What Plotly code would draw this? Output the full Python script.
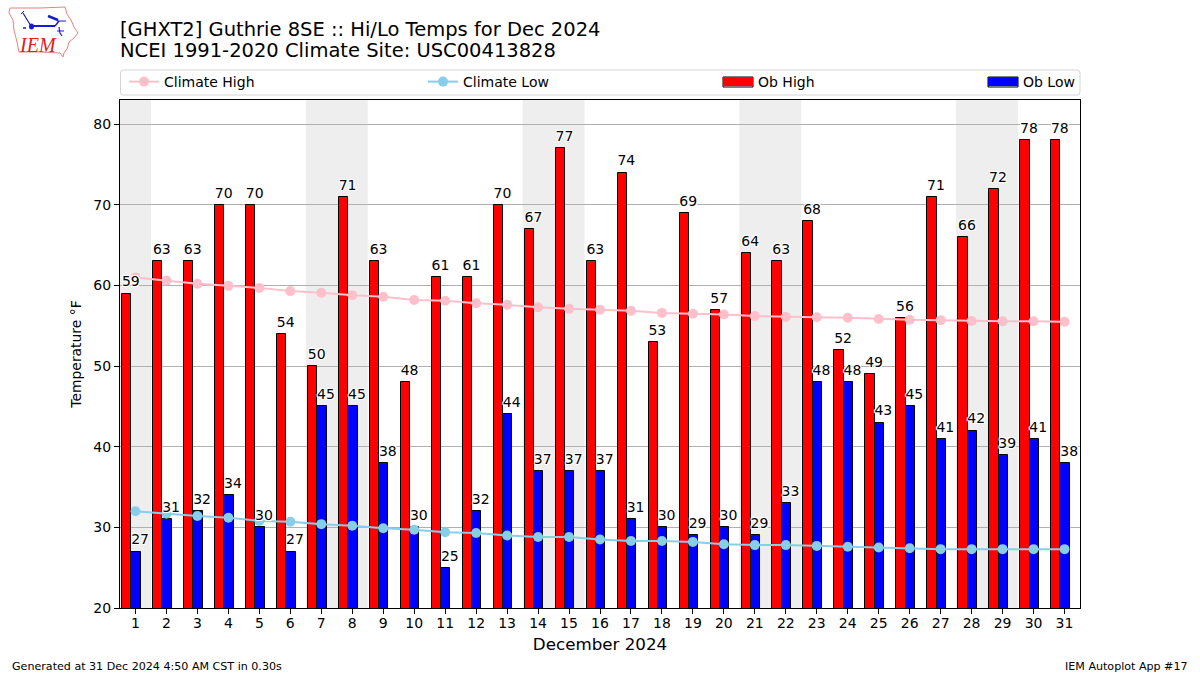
import plotly.graph_objects as go

days = list(range(1, 32))
ob_high = [59,63,63,70,70,54,50,71,63,48,61,61,70,67,77,63,74,53,69,57,64,63,68,52,49,56,71,66,72,78,78]
ob_low = [27,31,32,34,30,27,45,45,38,30,25,32,44,37,37,37,31,30,29,30,29,33,48,48,43,45,41,42,39,41,38]
climate_high = [61.0,60.6,60.2,59.95,59.7,59.3,59.1,58.8,58.6,58.2,58.1,57.8,57.6,57.3,57.1,57.0,56.85,56.6,56.5,56.4,56.2,56.1,56.05,56.0,55.85,55.75,55.7,55.6,55.55,55.55,55.5]
climate_low = [32.0,31.7,31.4,31.2,30.8,30.7,30.4,30.2,29.9,29.7,29.4,29.3,29.0,28.8,28.8,28.5,28.3,28.3,28.2,27.9,27.8,27.8,27.7,27.6,27.5,27.4,27.3,27.3,27.3,27.3,27.3]
weekend_spans = [(1, 1), (7, 8), (14, 15), (21, 22), (28, 29)]
y_ticks = [20, 30, 40, 50, 60, 70, 80]

FONT = "DejaVu Sans"
W, H = 1200, 675
L, R, T, B = 120, 1080, 100, 608

def px(x):
    return (x - L) / (R - L)

def py(y):
    return (B - y) / (B - T)

def path(points, close=False):
    s = "M" + " L".join(f"{px(x):.5f},{py(y):.5f}" for x, y in points)
    return s + (" Z" if close else "")

HALO = "-1px -1px 0 #fff, 1px -1px 0 #fff, -1px 1px 0 #fff, 1px 1px 0 #fff, 0 1px 0 #fff, 0 -1px 0 #fff, 1px 0 0 #fff, -1px 0 0 #fff"
LABEL_LIFT = 0.45

fig = go.Figure()
fig.add_trace(go.Bar(x=days, y=ob_high, name="Ob High", width=0.3, offset=-0.43, showlegend=False,
                     marker=dict(color="#ff0000", line=dict(color="#000000", width=1))))
fig.add_trace(go.Bar(x=days, y=ob_low, name="Ob Low", width=0.3, offset=-0.13, showlegend=False,
                     marker=dict(color="#0000ff", line=dict(color="#000000", width=1))))
fig.add_trace(go.Scatter(x=days, y=climate_high, name="Climate High", mode="lines+markers",
                         line=dict(color="#ffc0cb", width=2), marker=dict(color="#ffc0cb", size=10), legend="legend"))
fig.add_trace(go.Scatter(x=days, y=climate_low, name="Climate Low", mode="lines+markers",
                         line=dict(color="#87ceeb", width=2), marker=dict(color="#87ceeb", size=10), legend="legend2"))
# legend keys for the bars: wide swatches like the reference
fig.add_trace(go.Scatter(x=[None], y=[None], name="Ob High", mode="lines", line=dict(color="#ff0000", width=9), legend="legend3"))
fig.add_trace(go.Scatter(x=[None], y=[None], name="Ob Low", mode="lines", line=dict(color="#0000ff", width=9), legend="legend4"))
label_font = dict(family=FONT, size=14, color="#000000", shadow=HALO)
fig.add_trace(go.Scatter(x=[d - 0.15 for d in days], y=[v + LABEL_LIFT for v in ob_high], mode="text", text=[str(v) for v in ob_high],
                         textposition="top center", textfont=label_font, showlegend=False, hoverinfo="skip"))
fig.add_trace(go.Scatter(x=[d + 0.15 for d in days], y=[v + LABEL_LIFT for v in ob_low], mode="text", text=[str(v) for v in ob_low],
                         textposition="top center", textfont=label_font, showlegend=False, hoverinfo="skip"))

shapes = [dict(type="rect", xref="x", yref="paper", x0=a - 0.5, x1=b + 0.5, y0=0, y1=1,
               fillcolor="#eeeeee", line=dict(width=0), layer="below") for a, b in weekend_spans]

# legend frame (rounded)
x0, x1, y0, y1, r = 120.5, 1080, 70, 95, 3
shapes.append(dict(type="path", xref="paper", yref="paper", line=dict(color="#d5d5d5", width=1),
                   path=f"M{px(x0+r):.5f},{py(y0):.5f} L{px(x1-r):.5f},{py(y0):.5f} Q{px(x1):.5f},{py(y0):.5f} {px(x1):.5f},{py(y0+r):.5f} "
                        f"L{px(x1):.5f},{py(y1-r):.5f} Q{px(x1):.5f},{py(y1):.5f} {px(x1-r):.5f},{py(y1):.5f} "
                        f"L{px(x0+r):.5f},{py(y1):.5f} Q{px(x0):.5f},{py(y1):.5f} {px(x0):.5f},{py(y1-r):.5f} "
                        f"L{px(x0):.5f},{py(y0+r):.5f} Q{px(x0):.5f},{py(y0):.5f} {px(x0+r):.5f},{py(y0):.5f} Z"))

# IEM logo
logo_outline = [(10,8),(40,8),(65,7),(67,14),(71,20),(74,27),(78,33),(74,38),(69,42),(67,49),(64,53),(63,57),(60,53),(40,52),(19,52),(17,42),(14,30),(13,20),(9,13)]
shapes.append(dict(type="path", xref="paper", yref="paper", path=path(logo_outline, True),
                   line=dict(color="#e88080", width=1)))
logo_blue = [
    ([(31,26),(55,26)], 2),
    ([(55,26),(59,21)], 1.5),
    ([(48,16),(58,20)], 2.5),
    ([(57,21),(66,21)], 1),
    ([(31,26),(26,18),(23,13)], 1.2),
    ([(21,14),(24,11)], 1),
    ([(59,27),(60,33),(62,36)], 1.2),
    ([(57,31),(64,31)], 1),
    ([(23,28),(26,28)], 1.5),
]
for seg, w in logo_blue:
    shapes.append(dict(type="path", xref="paper", yref="paper", path=path(seg), line=dict(color="#1a1ad0", width=w)))
shapes.append(dict(type="circle", xref="paper", yref="paper", x0=px(29), x1=px(34), y0=py(29.5), y1=py(23.5),
                   fillcolor="#1a1ad0", line=dict(width=0)))

LEG_Y = 82
LEG_X = {"legend": 124, "legend2": 423, "legend3": 718, "legend4": 983}
for key in ("legend3", "legend4"):
    sx = LEG_X[key] + 5
    shapes.append(dict(type="rect", xref="paper", yref="paper", x0=px(sx), x1=px(sx + 30), y0=py(LEG_Y + 5), y1=py(LEG_Y - 5),
                       line=dict(color="#000000", width=1)))

def legend_at(x):
    return dict(x=px(x), xanchor="left", y=py(LEG_Y), yanchor="middle", bgcolor="rgba(0,0,0,0)", borderwidth=0,
                font=dict(family=FONT, size=14, color="#000000"), itemclick=False, itemdoubleclick=False)

annotations = [
    dict(text="NCEI 1991-2020 Climate Site: USC00413828", xref="paper", yref="paper", x=px(120), y=py(51),
         xanchor="left", yanchor="middle", xshift=-2, showarrow=False, font=dict(family=FONT, size=19.5, color="#000000")),
    dict(text="Generated at 31 Dec 2024 4:50 AM CST in 0.30s", xref="paper", yref="paper", x=px(12), y=py(666),
         xanchor="left", yanchor="middle", xshift=-2, showarrow=False, font=dict(family=FONT, size=11.1, color="#000000")),
    dict(text="IEM Autoplot App #17", xref="paper", yref="paper", x=px(1188), y=py(666),
         xanchor="right", yanchor="middle", xshift=2, showarrow=False, font=dict(family=FONT, size=11.1, color="#000000")),
    dict(text="<i>IEM</i>", xref="paper", yref="paper", x=px(38), y=py(45), xanchor="center", yanchor="middle",
         showarrow=False, font=dict(family="Liberation Serif", size=20, color="#e02020")),
]

fig.update_layout(
    width=W, height=H,
    margin=dict(l=L, r=W - R, t=T, b=H - B, autoexpand=False),
    plot_bgcolor="#ffffff", paper_bgcolor="#ffffff",
    barmode="overlay", bargap=0,
    font=dict(family=FONT, size=14, color="#000000"),
    title=dict(text="[GHXT2] Guthrie 8SE :: Hi/Lo Temps for Dec 2024",
               x=px(120), xref="paper", xanchor="left", y=1 - 29 / H, yref="container", yanchor="middle",
               font=dict(family=FONT, size=19.5, color="#000000")),
    xaxis=dict(range=[0.5, 31.5], tickmode="array", tickvals=days, ticktext=[str(d) for d in days],
               ticks="outside", ticklen=5, tickwidth=1, tickcolor="#000000", showgrid=False, zeroline=False,
               showline=True, linecolor="#000000", linewidth=1, mirror=True, ticklabelstandoff=-3,
               title=dict(text="December 2024", font=dict(family=FONT, size=16.7), standoff=8),
               tickfont=dict(family=FONT, size=14)),
    yaxis=dict(range=[20, 83], tickmode="array", tickvals=y_ticks, ticktext=[str(v) for v in y_ticks],
               ticks="outside", ticklen=5, tickwidth=1, tickcolor="#000000", showgrid=True, gridcolor="#b0b0b0",
               gridwidth=1, zeroline=False, showline=True, linecolor="#000000", linewidth=1, mirror=True,
               title=dict(text="Temperature °F", font=dict(family=FONT, size=13.9), standoff=8),
               tickfont=dict(family=FONT, size=14)),
    legend=legend_at(LEG_X["legend"]), legend2=legend_at(LEG_X["legend2"]),
    legend3=legend_at(LEG_X["legend3"]), legend4=legend_at(LEG_X["legend4"]),
    shapes=shapes, annotations=annotations,
)
fig.write_html("out.html", config={"displayModeBar": False},
               post_script="document.body.style.margin='0';document.documentElement.style.overflow='hidden';")
